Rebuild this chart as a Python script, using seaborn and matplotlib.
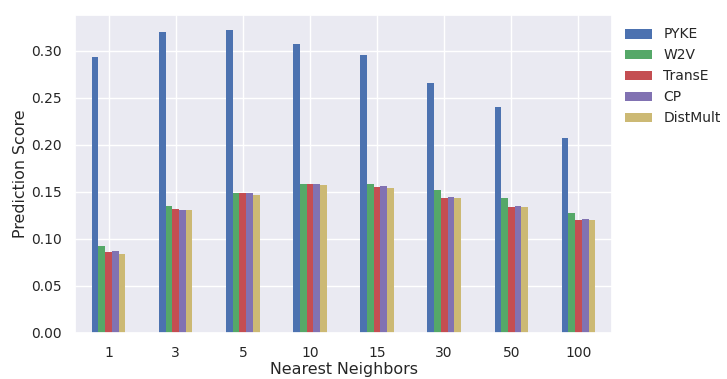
import matplotlib
matplotlib.use("Agg")
import matplotlib.pyplot as plt
import seaborn as sns
import pandas as pd

neighbors = ["1", "3", "5", "10", "15", "30", "50", "100"]
models = ["PYKE", "W2V", "TransE", "CP", "DistMult"]
pyke = [0.293, 0.320, 0.322, 0.307, 0.295, 0.2655, 0.240, 0.2075]
w2v = [0.093, 0.1345, 0.1485, 0.1585, 0.1587, 0.1517, 0.1430, 0.128]
transe = [0.086, 0.1317, 0.1485, 0.1585, 0.1556, 0.1440, 0.1340, 0.1200]
cp = [0.087, 0.1303, 0.1485, 0.1585, 0.1560, 0.1447, 0.1350, 0.1210]
distmult = [0.0845, 0.1303, 0.1465, 0.1572, 0.1545, 0.1437, 0.1340, 0.1200]

colors = ["#4C72B0", "#55A868", "#C44E52", "#8172B2", "#CCB974"]

series = {"PYKE": pyke, "W2V": w2v, "TransE": transe, "CP": cp, "DistMult": distmult}
rows = []
for m in models:
    for k, v in zip(neighbors, series[m]):
        rows.append({"Nearest Neighbors": k, "Prediction Score": v, "model": m})
df = pd.DataFrame(rows)

sns.set_theme(style="darkgrid")
plt.rcParams["font.family"] = ["DejaVu Sans"]

fig = plt.figure(figsize=(7.27, 3.79), dpi=100)
ax = fig.add_axes([75/727, 1-333/379, (612-75)/727, (333-15)/379])
sns.barplot(data=df, x="Nearest Neighbors", y="Prediction Score", hue="model",
            order=neighbors, hue_order=models, palette=colors, saturation=1,
            width=0.5, ax=ax, errorbar=None, linewidth=0)
ax.set_xlim(-0.5, 7.5)
ax.set_ylim(0, 0.338)
ax.set_yticks([0.0, 0.05, 0.10, 0.15, 0.20, 0.25, 0.30])
ax.set_yticklabels([f"{t:.2f}" for t in ax.get_yticks()])
ax.xaxis.grid(True)
ax.yaxis.grid(True)
ax.set_axisbelow(True)
ax.tick_params(labelsize=10)
ax.set_xlabel("Nearest Neighbors", fontsize=11.4, labelpad=1)
ax.set_ylabel("Prediction Score", fontsize=11.4, labelpad=2)
ax.legend(loc="upper left", bbox_to_anchor=(1.0, 1.0), frameon=False, fontsize=10)
fig.savefig("out.png", dpi=100)
